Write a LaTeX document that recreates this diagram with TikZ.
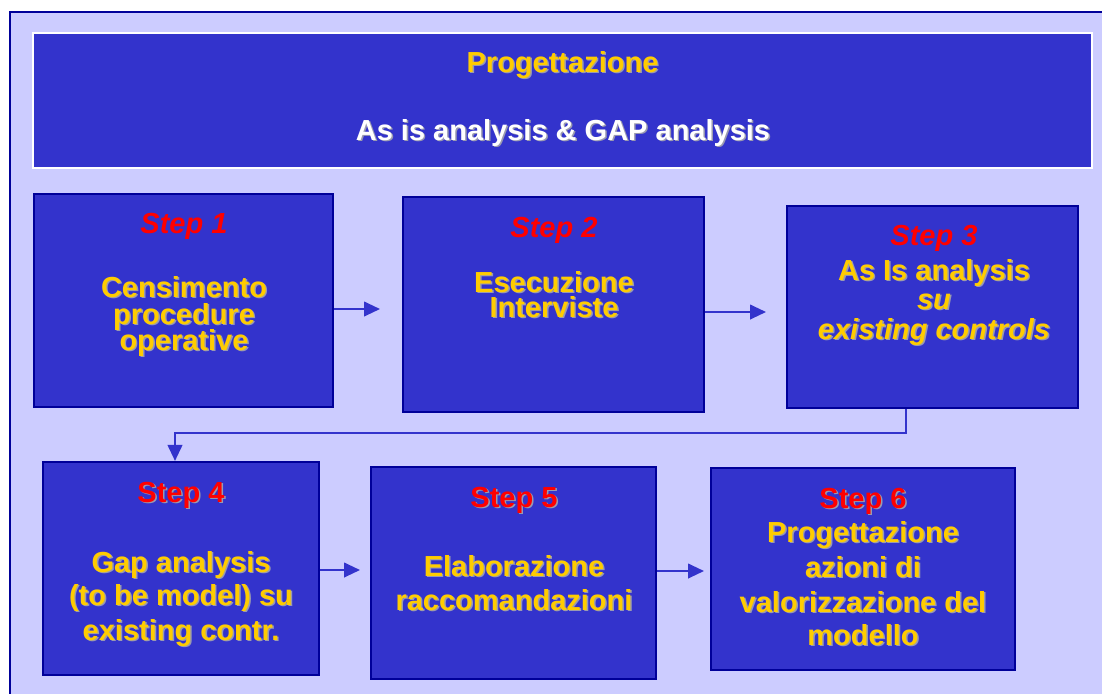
\documentclass[tikz,border=0pt]{standalone}
\usepackage{fontspec}
\setmainfont{Liberation Sans}
\usetikzlibrary{arrows.meta,fit,calc}
\definecolor{bgc}{HTML}{CCCCFF}
\definecolor{boxc}{HTML}{3333CC}
\definecolor{navy}{HTML}{000099}
\definecolor{ylw}{HTML}{FFCC00}
\definecolor{redc}{HTML}{FF0000}
\definecolor{shd}{HTML}{9A9AB0}
\newcommand{\shd}[1]{\makebox[0pt][l]{\kern1.1pt\raisebox{-1.1pt}{\color{shd}#1}}#1}
\tikzset{
  stepbox/.style={draw=navy, line width=1.6pt, fill=boxc, inner sep=0pt},
  hdrbox/.style={draw=white, line width=1.8pt, fill=boxc, inner sep=0pt},
  txt/.style={text=ylw, font=\fontsize{21.75}{24}\selectfont\bfseries, anchor=base, inner sep=0pt},
  wtxt/.style={txt, text=white},
  stplbl/.style={text=redc, font=\fontsize{21.75}{24}\selectfont\bfseries\itshape, anchor=base, inner sep=0pt},
  stplblup/.style={text=redc, font=\fontsize{21.75}{24}\selectfont\bfseries, anchor=base, inner sep=0pt},
  arr/.style={draw=boxc, line width=1.5pt, -{Triangle[length=12pt,width=11pt]}}
}
\begin{document}
\begin{tikzpicture}[x=0.75pt,y=-0.75pt]
\useasboundingbox (0,0) rectangle (1102,693);
\clip (0,0) rectangle (1102,693);
\fill[white] (0,0) rectangle (1102,693);
\draw[navy, line width=2.2pt, fill=bgc] (10,12) rectangle (1120,710);

% header
\node[hdrbox, fit={(33,33) (1092,168)}] (hdr) {};
\node[txt] (h1) at (562.5,72) {\shd{Progettazione}};
\node[wtxt] (h2) at (563,140) {\shd{As is analysis \& GAP analysis}};

% boxes
\node[stepbox, fit={(34,194) (333,407)}] (s1) {};
\node[stepbox, fit={(403,197) (704,412)}] (s2) {};
\node[stepbox, fit={(787,206) (1078,408)}] (s3) {};
\node[stepbox, fit={(43,462) (319,675)}] (s4) {};
\node[stepbox, fit={(371,467) (656,679)}] (s5) {};
\node[stepbox, fit={(711,468) (1015,670)}] (s6) {};

% step 1
\node[stplbl] (s1l) at (184,233) {Step 1};
\node[txt] (s1a) at (184,297) {\shd{Censimento}};
\node[txt] (s1b) at (184,324) {\shd{procedure}};
\node[txt] (s1c) at (184,350) {\shd{operative}};

% step 2
\node[stplbl] (s2l) at (554,237) {Step 2};
\node[txt] (s2a) at (554,292) {\shd{Esecuzione}};
\node[txt] (s2b) at (554,317) {\shd{Interviste}};

% step 3
\node[stplbl] (s3l) at (934,245) {Step 3};
\node[txt] (s3a) at (934,280) {\shd{As Is analysis}};
\node[txt, font=\fontsize{21.75}{24}\selectfont\bfseries\itshape] (s3b) at (934,309) {\shd{su}};
\node[txt, font=\fontsize{21.75}{24}\selectfont\bfseries\itshape] (s3c) at (934,339) {\shd{existing controls}};

% step 4
\node[stplblup] (s4l) at (181,502) {\shd{Step 4}};
\node[txt] (s4a) at (181,572) {\shd{Gap analysis}};
\node[txt] (s4b) at (181,605) {\shd{(to be model) su}};
\node[txt] (s4c) at (181,640) {\shd{existing contr.}};

% step 5
\node[stplblup] (s5l) at (514,507) {\shd{Step 5}};
\node[txt] (s5a) at (514,576) {\shd{Elaborazione}};
\node[txt] (s5b) at (514,610) {\shd{raccomandazioni}};

% step 6
\node[stplblup] (s6l) at (863,508) {\shd{Step 6}};
\node[txt] (s6a) at (863,542) {\shd{Progettazione}};
\node[txt] (s6b) at (863,577) {\shd{azioni di}};
\node[txt] (s6c) at (863,612) {\shd{valorizzazione del}};
\node[txt] (s6d) at (863,645) {\shd{modello}};

% connectors
\coordinate (a12) at (380,309);
\coordinate (a23) at (766,312);
\coordinate (a45) at (360,570);
\coordinate (a56) at (704,571);
\coordinate (c34a) at (906,433);
\coordinate (c34b) at (175,433);
\draw[arr] (s1.east |- a12) -- (a12);
\draw[arr] (s2.east |- a23) -- (a23);
\draw[arr] (s4.east |- a45) -- (a45);
\draw[arr] (s5.east |- a56) -- (a56);
\draw[arr] (s3.south -| c34a) -- (c34a) -- (c34b) -- (s4.north -| c34b);
\end{tikzpicture}
\end{document}
